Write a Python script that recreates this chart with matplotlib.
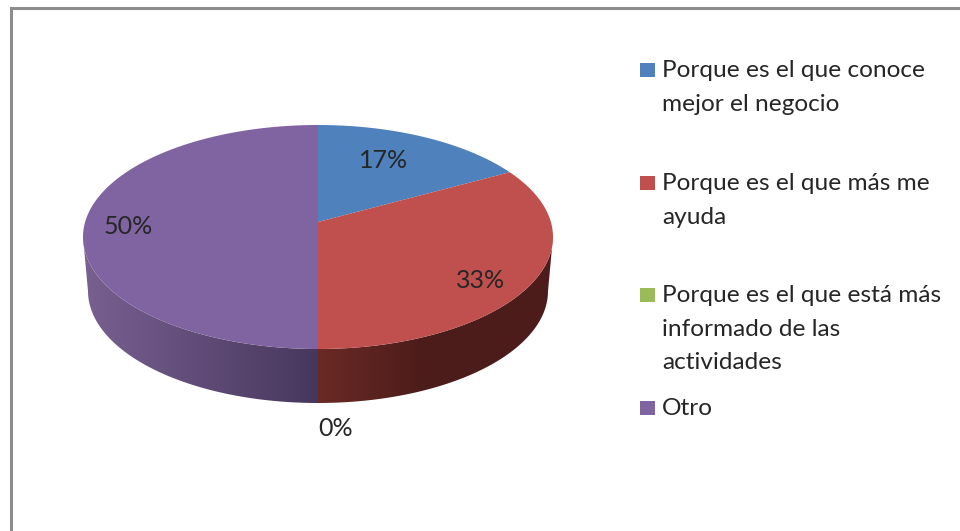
"""Pie chart with fake 3D side, legend to the right."""
import matplotlib
matplotlib.use("Agg")
import matplotlib.pyplot as plt
import numpy as np
from matplotlib.colors import to_rgb
from matplotlib.patches import Polygon

plt.rcParams["font.family"] = ["Lato", "DejaVu Sans"]

values = [17, 33, 0, 50]
colors = ["#4f81bd", "#c0504d", "#9bbb59", "#8064a2"]
legend_lines = [
    ["Porque es el que conoce", "mejor el negocio"],
    ["Porque es el que más me", "ayuda"],
    ["Porque es el que está más", "informado de las", "actividades"],
    ["Otro"],
]

W, H = 960, 531
CX, CY, RX, RY = 318, 237, 235, 112
APEX = 0.134  # the pie centre sits above the ellipse centre (perspective)
DEPTH = 54
RX_BOTTOM = 230
TEXT = "#262626"

fig = plt.figure(figsize=(W / 100, H / 100), dpi=100)
ax = fig.add_axes([0, 0, 1, 1])


def warp(u, v):
    """Perspective map of the unit circle onto itself, moves 0 to (0, APEX)."""
    d = 1 + APEX * v
    x = u * np.sqrt(1 - APEX ** 2) / d
    y = (v + APEX) / d
    return CX + RX * x, CY - RY * y


start = np.cumsum([0] + values[:-1]) * 3.6
end = np.cumsum(values) * 3.6


def side_outline(a0, a1):
    """Side wall between two angles measured on the ellipse, clockwise from top."""
    ts = np.radians(np.linspace(a0, a1, 200))
    top_x, top_y = CX + RX * np.sin(ts), CY - RY * np.cos(ts)
    bot_x, bot_y = CX + RX_BOTTOM * np.sin(ts), CY + DEPTH - RY * np.cos(ts)
    return np.c_[np.r_[top_x, bot_x[::-1]], np.r_[top_y, bot_y[::-1]]]


# side wall, gradients run along x
side_ranges = [
    (90, 180, CX, CX + RX, [0, 0.45, 1], ["#6a2a26", "#4c1c1a", "#4c1c1a"]),
    (180, 270, CX - RX, CX, [0, 0.2, 1], ["#78618f", "#6f5888", "#47375c"]),
]
for a0, a1, x0, x1, stops, cols in side_ranges:
    rgb = np.array([to_rgb(c) for c in cols])
    pos = np.linspace(0, 1, 256)
    grad = np.stack([np.interp(pos, stops, rgb[:, i]) for i in range(3)], axis=-1)[None, :, :]
    im = ax.imshow(grad, extent=[x0, x1, CY + DEPTH + RY + 2, CY - 2], aspect="auto",
                   interpolation="bilinear", zorder=1)
    poly = Polygon(side_outline(a0, a1), closed=True, transform=ax.transData)
    im.set_clip_path(poly)

# top of the pie
for a0, a1, col, v in zip(start, end, colors, values):
    if v == 0:
        continue
    ts = np.radians(np.linspace(a0, a1, 200))
    xs, ys = warp(np.sin(ts), np.cos(ts))
    ax.fill(np.r_[warp(0, 0)[0], xs], np.r_[warp(0, 0)[1], ys], color=col, lw=0, zorder=2)

ax.set_xlim(0, W)
ax.set_ylim(H, 0)
ax.axis("off")

ax.plot([W, 10.5, 10.5], [8, 8, H], color="#8c8c8c", lw=2.2, solid_joinstyle="miter")

label_pos = [(384, 161), (481, 280), (336, 429), (128, 226)]
for v, (x, y) in zip(values, label_pos):
    ax.text(x, y, f"{v}%", ha="center", va="center", fontsize=18, color=TEXT, zorder=3)

baselines = [[77, 111], [190, 224], [302, 336, 369], [415]]
for lines, ys, col in zip(legend_lines, baselines, colors):
    ax.fill([640, 655, 655, 640], [ys[0] - 14, ys[0] - 14, ys[0], ys[0]], color=col, lw=0)
    for line, y in zip(lines, ys):
        ax.text(662, y, line, ha="left", va="baseline", fontsize=17.6, color=TEXT)

fig.savefig("out.png", dpi=100)
